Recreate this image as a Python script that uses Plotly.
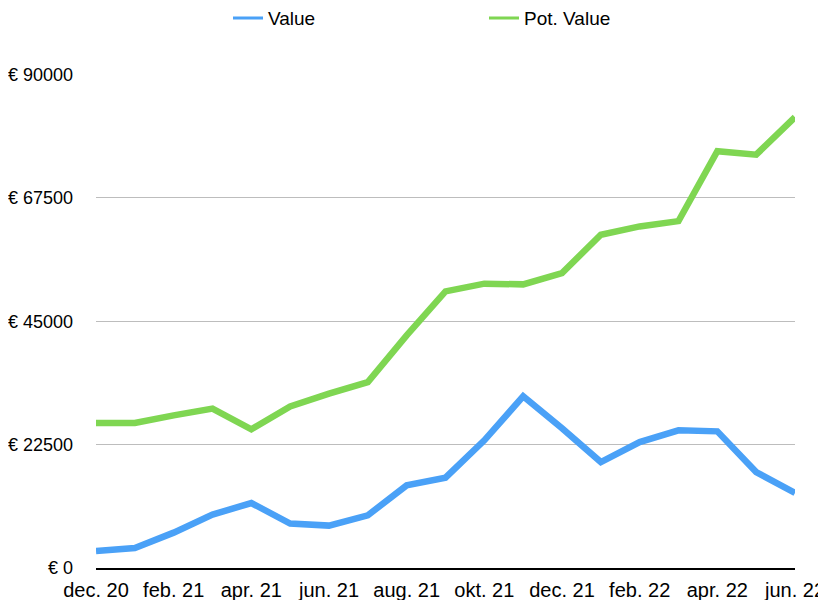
import plotly.graph_objects as go

# månedsdata
months = ['dec. 20', 'jan. 21', 'feb. 21', 'mar. 21', 'apr. 21', 'maj. 21', 'jun. 21',
          'jul. 21', 'aug. 21', 'sep. 21', 'okt. 21', 'nov. 21', 'dec. 21', 'jan. 22',
          'feb. 22', 'mar. 22', 'apr. 22', 'maj. 22', 'jun. 22']
value = [3100, 3650, 6450, 9740, 11850, 8100, 7730, 9610, 15080, 16480,
         23280, 31310, 25470, 19330, 22970, 25110, 24920, 17500, 13680]
pot_value = [26440, 26440, 27840, 29060, 25290, 29480, 31800, 33910, 42430, 50450,
             51860, 51730, 53790, 60790, 62300, 63270, 76030, 75380, 82230]
y_ticks = [0, 22500, 45000, 67500, 90000]
y_ticktext = ['€ ' + str(v) for v in y_ticks]

blue = 'rgb(74, 161, 247)'
green = 'rgb(127, 214, 82)'

fig = go.Figure()
fig.add_trace(go.Scatter(x=months, y=value, name='Value', mode='lines', showlegend=False,
                         line=dict(color=blue, width=6.5)))
fig.add_trace(go.Scatter(x=months, y=pot_value, name='Pot. Value', mode='lines', showlegend=False,
                         line=dict(color=green, width=6.5)))
# tynde streger kun til legend
fig.add_trace(go.Scatter(x=[None], y=[None], name='Value', mode='lines',
                         line=dict(color=blue, width=3)))
fig.add_trace(go.Scatter(x=[None], y=[None], name='Pot. Value', mode='lines',
                         line=dict(color=green, width=3)))

# siden har 8px body-margin, derfor er marginerne forskudt
fig.update_layout(
    width=826, height=600,
    paper_bgcolor='white', plot_bgcolor='white',
    font=dict(family='Liberation Sans, Arial, sans-serif', size=20, color='black'),
    margin=dict(l=88, r=39, t=66, b=40, autoexpand=False),
    showlegend=True,
    legend=dict(orientation='h', xref='container', yref='container',
                x=220 / 826, xanchor='left', y=0.983, yanchor='middle',
                entrywidth=211, entrywidthmode='pixels',
                font=dict(size=19), bgcolor='rgba(0,0,0,0)'),
)

fig.update_xaxes(
    type='category', range=[0, len(months) - 1],
    tickvals=months[::2], ticktext=months[::2],
    showgrid=False, showline=True, linecolor='black', linewidth=2,
    ticks='', tickfont=dict(size=20), ticklabelstandoff=3, automargin=False,
)
fig.update_yaxes(
    range=[0, 90100], tickvals=y_ticks, ticktext=y_ticktext,
    showgrid=True, gridcolor='#bdbdbd', gridwidth=1,
    zeroline=False, showline=False, ticks='',
    ticklabelstandoff=22, tickfont=dict(size=18), automargin=False,
)

fig.write_html('out.html')
